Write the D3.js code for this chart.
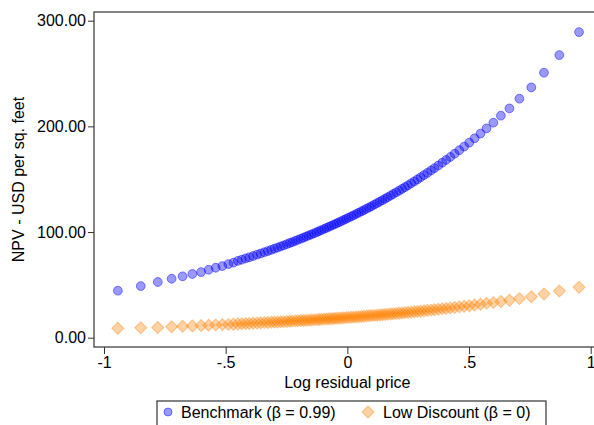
<!DOCTYPE html>
<html>
<head>
<meta charset="utf-8">
<script src="https://cdn.jsdelivr.net/npm/d3@7/dist/d3.min.js"></script>
<style>
  html, body { margin: 0; padding: 0; background: #fff; }
  svg { display: block; font-family: "Liberation Sans", Arial, Helvetica, sans-serif; }
</style>
</head>
<body>
<svg id="chart" width="594" height="425"></svg>
<script>
// ---- Data ----
const xValues = [
  -0.943, -0.849, -0.779, -0.722, -0.677, -0.637, -0.601, -0.570, -0.541, -0.514,
  -0.489, -0.468, -0.450, -0.434, -0.418, -0.403, -0.387, -0.371, -0.356, -0.341,
  -0.327, -0.313, -0.300, -0.287, -0.274, -0.262, -0.249, -0.237, -0.226, -0.214,
  -0.203, -0.191, -0.180, -0.169, -0.158, -0.148, -0.137, -0.126, -0.116, -0.106,
  -0.095, -0.085, -0.075, -0.065, -0.055, -0.045, -0.035, -0.025, -0.015, -0.005,
  0.005, 0.016, 0.026, 0.037, 0.047, 0.058, 0.068, 0.079, 0.090, 0.100,
  0.111, 0.122, 0.133, 0.144, 0.155, 0.166, 0.178, 0.189, 0.201, 0.213,
  0.225, 0.237, 0.249, 0.262, 0.275, 0.288, 0.301, 0.315, 0.329, 0.344,
  0.358, 0.374, 0.390, 0.406, 0.423, 0.441, 0.460, 0.480, 0.501, 0.523,
  0.547, 0.572, 0.600, 0.631, 0.666, 0.707, 0.756, 0.808, 0.871, 0.952
];
const benchmark = [
  44.5, 48.9, 52.7, 55.8, 58.1, 60.3, 62.1, 64.3, 66.2, 67.8,
  69.7, 71.0, 72.7, 73.8, 75.0, 76.1, 77.3, 78.6, 79.7, 80.9,
  82.0, 83.1, 84.2, 85.3, 86.4, 87.4, 88.5, 89.6, 90.5, 91.6,
  92.6, 93.7, 94.7, 95.8, 96.8, 97.7, 98.8, 99.9, 100.9, 101.9,
  103.0, 104.0, 105.0, 106.0, 107.1, 108.1, 109.2, 110.3, 111.4, 112.4,
  113.6, 114.8, 115.9, 117.2, 118.3, 119.6, 120.8, 122.1, 123.4, 124.6,
  126.0, 127.4, 128.7, 130.1, 131.5, 133.0, 134.5, 136.0, 137.6, 139.2,
  140.9, 142.5, 144.2, 146.1, 147.9, 149.8, 151.8, 153.9, 156.0, 158.3,
  160.5, 163.0, 165.6, 168.2, 171.0, 174.1, 177.4, 180.9, 184.6, 188.7,
  193.2, 198.1, 203.5, 210.1, 217.0, 226.2, 236.9, 250.8, 267.5, 289.2
];
const lowDiscount = [
  8.9, 9.3, 9.7, 10.4, 10.8, 11.1, 11.5, 11.8, 12.1, 12.4,
  12.6, 12.8, 13.0, 13.2, 13.4, 13.5, 13.7, 13.9, 14.1, 14.3,
  14.4, 14.6, 14.8, 14.9, 15.1, 15.2, 15.4, 15.6, 15.7, 15.9,
  16.0, 16.2, 16.3, 16.5, 16.6, 16.8, 16.9, 17.1, 17.3, 17.4,
  17.6, 17.7, 17.9, 18.0, 18.2, 18.4, 18.5, 18.7, 18.8, 19.0,
  19.2, 19.4, 19.5, 19.7, 19.9, 20.1, 20.3, 20.5, 20.7, 20.9,
  21.1, 21.3, 21.5, 21.7, 21.9, 22.2, 22.4, 22.6, 22.9, 23.1,
  23.4, 23.7, 23.9, 24.2, 24.5, 24.8, 25.1, 25.4, 25.8, 26.1,
  26.5, 26.9, 27.3, 27.7, 28.2, 28.6, 29.2, 29.7, 30.3, 31.0,
  31.7, 32.5, 33.2, 34.2, 35.4, 37.0, 38.8, 41.3, 44.2, 47.7
];
const xTicks = [-1, -0.5, 0, 0.5, 1];
const xTickLabels = ["-1", "-.5", "0", ".5", "1"];
const yTicks = [0, 100, 200, 300];
const seriesNames = ["Benchmark (\u03B2 = 0.99)", "Low Discount (\u03B2 = 0)"];
const xTitle = "Log residual price";
const yTitle = "NPV - USD per sq. feet";

// ---- Layout ----
const svg = d3.select("#chart");
const FS = 16;
const frame = { left: 94, top: 12, right: 600, bottom: 347 };
const x = d3.scaleLinear().domain([-1, 1]).range([104, 590.7]);
const y = d3.scaleLinear().domain([0, 300]).range([337.7, 20.7]);

const blueFill = "rgba(0,0,255,0.4)", blueStroke = "rgba(0,0,255,0.45)";
const orangeFill = "rgba(255,128,0,0.35)", orangeStroke = "rgba(255,128,0,0.4)";

// frame
svg.append("rect")
  .attr("x", frame.left).attr("y", frame.top)
  .attr("width", frame.right - frame.left).attr("height", frame.bottom - frame.top)
  .attr("fill", "none").attr("stroke", "#333").attr("stroke-width", 1.2);

// y axis
const yAxis = svg.append("g")
  .attr("transform", `translate(${frame.left},0)`)
  .call(d3.axisLeft(y).tickValues(yTicks).tickFormat(d3.format(".2f")).tickSize(6).tickPadding(2));
yAxis.select(".domain").remove();
yAxis.selectAll("line").attr("stroke", "#333");
yAxis.selectAll("text").attr("font-size", FS).attr("fill", "#000")
  .attr("font-family", "Liberation Sans, Arial, sans-serif");

// x axis
const xAxis = svg.append("g")
  .attr("transform", `translate(0,${frame.bottom})`)
  .call(d3.axisBottom(x).tickValues(xTicks).tickFormat((d, i) => xTickLabels[i]).tickSize(7).tickPadding(3));
xAxis.select(".domain").remove();
xAxis.selectAll("line").attr("stroke", "#333");
xAxis.selectAll("text").attr("font-size", FS).attr("fill", "#000")
  .attr("font-family", "Liberation Sans, Arial, sans-serif");

// axis titles
svg.append("text")
  .attr("x", x(0)).attr("y", 388)
  .attr("text-anchor", "middle").attr("font-size", FS).attr("fill", "#000")
  .text(xTitle);
svg.append("text")
  .attr("transform", `translate(24,${(frame.top + frame.bottom) / 2}) rotate(-90)`)
  .attr("text-anchor", "middle").attr("font-size", FS).attr("fill", "#000")
  .text(yTitle);

// points
const pts = xValues.map((v, i) => ({ x: v, b: benchmark[i], l: lowDiscount[i] }));

svg.append("g").selectAll("circle").data(pts).join("circle")
  .attr("cx", d => x(d.x)).attr("cy", d => y(d.b)).attr("r", 4.4)
  .attr("fill", blueFill).attr("stroke", blueStroke).attr("stroke-width", 1);

const diamond = d3.symbol().type(d3.symbolSquare).size(72);
svg.append("g").selectAll("path").data(pts).join("path")
  .attr("d", diamond)
  .attr("transform", d => `translate(${x(d.x)},${y(d.l)}) rotate(45)`)
  .attr("fill", orangeFill).attr("stroke", orangeStroke).attr("stroke-width", 1);

// legend
const lg = svg.append("g");
lg.append("rect").attr("x", 157).attr("y", 401).attr("width", 389).attr("height", 40)
  .attr("fill", "#fff").attr("stroke", "#333").attr("stroke-width", 1.2);
lg.append("circle").attr("cx", 168).attr("cy", 412).attr("r", 4)
  .attr("fill", blueFill).attr("stroke", blueStroke);
lg.append("text").attr("x", 181).attr("y", 418).attr("font-size", FS).attr("fill", "#000")
  .text(seriesNames[0]);
lg.append("path").attr("d", diamond)
  .attr("transform", "translate(368,412) rotate(45)")
  .attr("fill", orangeFill).attr("stroke", orangeStroke);
lg.append("text").attr("x", 383).attr("y", 418).attr("font-size", FS).attr("fill", "#000")
  .text(seriesNames[1]);
</script>
</body>
</html>
